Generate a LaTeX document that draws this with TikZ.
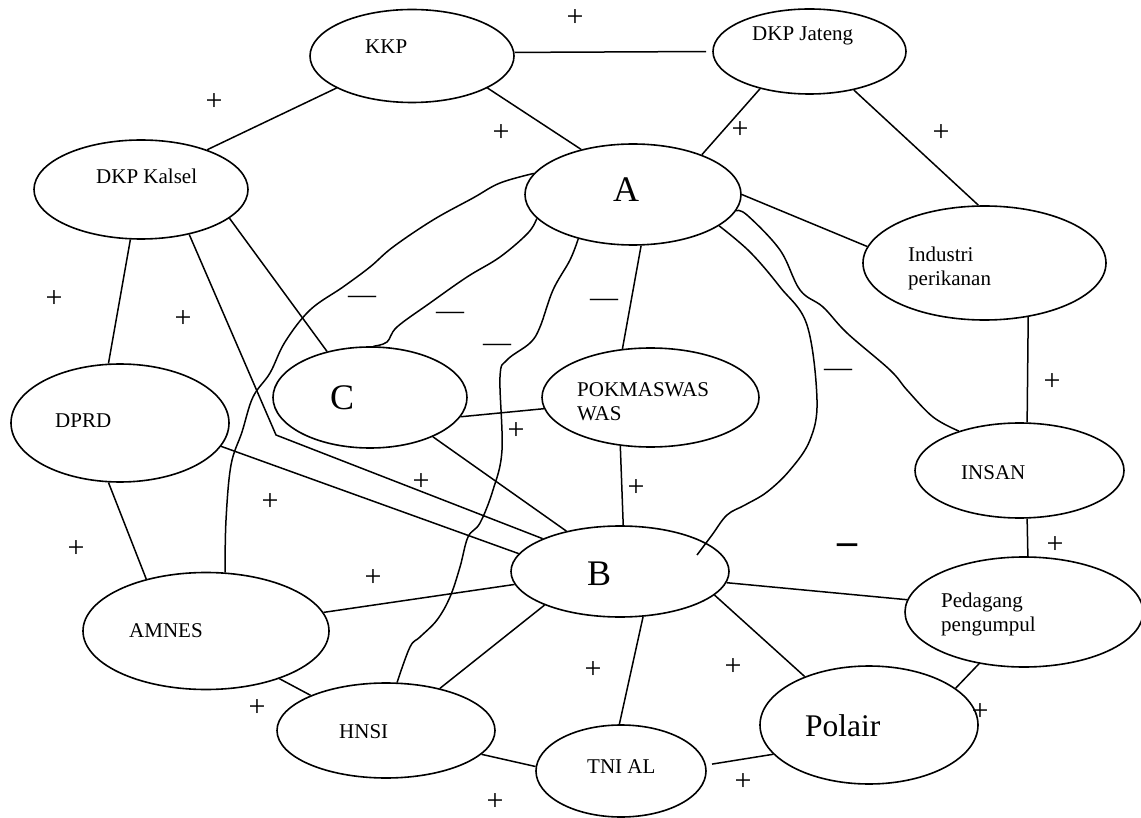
\documentclass[tikz,border=0pt]{standalone}
\usepackage{fontspec}
\setmainfont{Liberation Serif}
\usetikzlibrary{shapes.geometric}
\begin{document}
\begin{tikzpicture}[x=1pt,y=-1pt,
  ell/.style={draw, ellipse, line width=1.6pt, inner sep=0pt},
  lbl/.style={font=\fontsize{21}{24}\selectfont, inner sep=0pt, anchor=base west, align=left},
  big/.style={font=\fontsize{36}{40}\selectfont, inner sep=0pt, anchor=base west},
  mid/.style={font=\fontsize{31.5}{34}\selectfont, inner sep=0pt, anchor=base west},
  sign/.style={font=\fontsize{30}{30}\selectfont, inner sep=0pt},
  neg/.style={font=\fontsize{28}{28}\selectfont, inner sep=0pt, anchor=base},
  negb/.style={font=\fontsize{40}{40}\selectfont\bfseries, inner sep=0pt, anchor=base},
  link/.style={line width=1.5pt},
  wav/.style={line width=1.5pt, line join=round}]
\useasboundingbox (0,0) rectangle (1141,818);
% ellipses
\node[ell, minimum width=204pt, minimum height=93pt] (kkp) at (412,56) {};
\node[ell, minimum width=193pt, minimum height=85pt] (jat) at (809.5,51.5) {};
\node[ell, minimum width=214pt, minimum height=99pt] (kal) at (141,189.5) {};
\node[ell, minimum width=216pt, minimum height=101pt] (A) at (633,194.5) {};
\node[ell, minimum width=243pt, minimum height=114pt] (ind) at (984.5,263) {};
\node[ell, minimum width=209pt, minimum height=95pt] (insan) at (1019.5,470.5) {};
\node[ell, minimum width=238pt, minimum height=110pt] (ped) at (1024,612) {};
\node[ell, minimum width=218pt, minimum height=118pt] (pol) at (869,725) {};
\node[ell, minimum width=170pt, minimum height=92pt] (tni) at (621,771) {};
\node[ell, minimum width=218pt, minimum height=95pt] (hnsi) at (386,730.5) {};
\node[ell, minimum width=246pt, minimum height=117pt] (amnes) at (206,631) {};
\node[ell, minimum width=218pt, minimum height=118pt] (dprd) at (120,423) {};
\node[ell, minimum width=194pt, minimum height=101pt] (C) at (370,397.5) {};
\node[ell, minimum width=217pt, minimum height=99pt] (pok) at (650.5,397.5) {};
\node[ell, minimum width=218pt, minimum height=91pt] (B) at (620,571.5) {};
% texts
\node[lbl] (tkkp) at (365,54) {KKP};
\node[lbl] (tjat) at (752,41) {DKP Jateng};
\node[lbl] (tkal) at (96,184) {DKP Kalsel};
\node[big] (tA) at (613,202) {A};
\node[lbl] (tind) at (908,286) {Industri\\perikanan};
\node[big] (tC) at (330,409) {C};
\node[lbl] (tpok) at (577,420.5) {POKMASWAS\\WAS};
\node[lbl] (tdprd) at (55,427) {DPRD};
\node[lbl] (tinsan) at (961,479) {INSAN};
\node[big] (tB) at (587,585) {B};
\node[lbl] (tped) at (941,631) {Pedagang\\pengumpul};
\node[lbl] (tamnes) at (129,637) {AMNES};
\node[mid] (tpol) at (805,736) {Polair};
\node[lbl] (thnsi) at (339,738) {HNSI};
\node[lbl] (ttni) at (587,773) {TNI AL};
% straight links
\coordinate (kink) at (276,435);
\coordinate (w4end) at (697,555);
\draw[link, shorten >=6pt] (kkp.2) -- (jat.180);
\draw[link] (kkp.203.7) -- (kal.31.5);
\draw[link] (kkp.-23.7) -- (A.139.4);
\draw[link] (jat.217.1) -- (A.30.5);
\draw[link] (jat.-41.1) -- (ind.96.7);
\draw[link] (A.0.8) -- (ind.172.7);
\draw[link] (ind.-51.3) -- (insan.81);
\draw[link] (insan.-81) -- (ped.86.9);
\draw[link] (B.-6.7) -- (ped.174.2);
\draw[link] (B.-14.7) -- (pol.143.1);
\draw[link] (ped.-131.7) -- (pol.23.7);
\draw[link, shorten >=6pt] (pol.-163) -- (tni.4.4);
\draw[link] (B.-63.3) -- (tni.92.5);
\draw[link] (hnsi.-14.2) -- (tni.177.1);
\draw[link] (B.-156.6) -- (hnsi.38.8);
\draw[link] (amnes.-33.7) -- (hnsi.155.7);
\draw[link] (amnes.9.5) -- (B.-173.8);
\draw[link] (dprd.-101.2) -- (amnes.139.8);
\draw[link] (dprd.-13.4) -- (B.170.1);
\draw[link] (kal.-102.5) -- (dprd.101.8);
\draw[link] (kal.-43.4) -- (kink) -- (B.157.6);
\draw[link] (kal.-18.6) -- (C.133.4);
\draw[link] (C.-32.2) -- (B.143.3);
\draw[link] (C.-12.4) -- (pok.186.6);
\draw[link] (pok.-122.4) -- (B.86.6);
\draw[link] (A.-81) -- (pok.120.4);
% wavy (negative) links
\draw[wav] plot[smooth, tension=0.6] coordinates {(A.168) (500,183) (473,198) (433,220) (393,247) (370,267) (343,287) (310,310) (285,342) (270,373) (253,397) (242,432) (231,465) (226,520) (amnes.72)};
\draw[wav] plot[smooth, tension=0.6] coordinates {(A.-166.2) (528,233) (500,257) (467,277) (430,303) (397,327) (387,342) (C.86.6)};
\draw[wav] plot[smooth, tension=0.6] coordinates {(A.-141.7) (570,260) (553,290) (540,327) (530,343) (507,360) (500,377) (502,450) (493,490) (480,523) (468,537) (460,567) (450,597) (437,620) (420,637) (410,647) (hnsi.77.2)};
\draw[wav] plot[smooth, tension=0.6] coordinates {(A.-20.5) (750,252) (780,287) (807,325) (817,400) (810,440) (790,470) (767,492) (745,505) (727,515) (712,535) (w4end)};
\draw[wav] plot[smooth, tension=0.6] coordinates {(A.-9.5) (747,215) (780,250) (800,290) (823,307) (847,333) (890,370) (907,390) (933,417) (insan.147.8)};
% signs
\node[sign] (p1) at (575,18) {+};
\node[sign] (p2) at (214,102) {+};
\node[sign] (p3) at (501,133) {+};
\node[sign] (p4) at (740,130) {+};
\node[sign] (p5) at (941,133) {+};
\node[sign] (p6) at (54,299) {+};
\node[sign] (p7) at (183,319) {+};
\node[sign] (p8) at (1052,382) {+};
\node[sign] (p9) at (516,431) {+};
\node[sign] (p10) at (421,482) {+};
\node[sign] (p11) at (636,488) {+};
\node[sign] (p12) at (270,502) {+};
\node[sign] (p13) at (76,549) {+};
\node[sign] (p14) at (373,578) {+};
\node[sign] (p15) at (1055,545) {+};
\node[sign] (p16) at (593,670) {+};
\node[sign] (p17) at (733,667) {+};
\node[sign] (p18) at (257,708) {+};
\node[sign] (p19) at (980,712) {+};
\node[sign] (p20) at (495,802) {+};
\node[sign] (p21) at (743,782) {+};
\node[neg] (m1) at (362,304) {—};
\node[neg] (m2) at (450,320) {—};
\node[neg] (m3) at (497,352) {—};
\node[neg] (m4) at (604,307) {—};
\node[neg] (m5) at (838,377) {—};
\node[negb] (m6) at (847,554.5) {–};
\end{tikzpicture}
\end{document}
